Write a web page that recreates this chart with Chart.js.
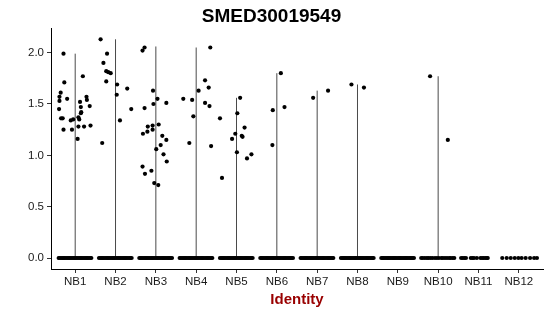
<!DOCTYPE html>
<html>
<head>
<meta charset="utf-8">
<script src="https://cdn.jsdelivr.net/npm/chart.js@4"></script>
<style>
  html, body { margin: 0; padding: 0; background: #fff; }
  #wrap { width: 550px; height: 316px; }
</style>
</head>
<body>
<div id="wrap"><canvas id="c" width="550" height="316"></canvas></div>
<script>
// ---- data ----
const title = 'SMED30019549';
const xTitle = 'Identity';
const categories = ['NB1','NB2','NB3','NB4','NB5','NB6','NB7','NB8','NB9','NB10','NB11','NB12'];
const yTicks = [0, 0.5, 1.0, 1.5, 2.0];
// top of each (very thin) violin; null = no visible violin
const violinMax = [1.99, 2.13, 2.06, 2.05, 1.56, 1.80, 1.63, 1.69, null, 1.77, null, null];

// non-zero expression values per group and their horizontal jitter
const exprNB1 = [1.99,1.71,1.61,1.57,1.53,1.55,1.45,1.36,1.36,1.25,1.34,1.35,1.25,1.16,1.28,1.35,1.37,1.52,1.47,1.42,1.41,1.77,1.28,1.57,1.54,1.48,1.29];
const jitNB1  = [-0.29,-0.27,-0.36,-0.39,-0.39,-0.20,-0.40,-0.35,-0.31,-0.29,-0.11,-0.05,-0.08,0.06,0.08,0.10,0.08,0.12,0.14,0.15,0.14,0.19,0.22,0.28,0.29,0.36,0.38];
const exprNB2 = [2.13,1.90,1.99,1.82,1.81,1.80,1.72,1.12,1.69,1.59,1.34,1.65,1.45];
const jitNB2  = [-0.37,-0.30,-0.21,-0.23,-0.18,-0.12,-0.23,-0.33,0.04,0.03,0.11,0.29,0.39];
const exprNB3 = [2.02,2.05,1.46,1.21,1.23,1.28,1.29,1.25,1.63,1.50,1.55,1.30,1.06,1.10,1.19,1.15,1.51,1.01,0.89,0.82,0.85,0.73,0.71,0.94];
const jitNB3  = [-0.33,-0.28,-0.28,-0.32,-0.21,-0.20,-0.08,-0.08,-0.07,-0.06,0.04,0.07,0.01,0.12,0.16,0.26,0.26,0.19,-0.33,-0.27,-0.11,-0.04,0.06,0.27];
const exprNB4 = [1.55,1.54,1.38,1.12,1.63,2.05,1.73,1.66,1.51,1.48,1.09];
const jitNB4  = [-0.32,-0.10,-0.07,-0.17,0.06,0.35,0.22,0.31,0.22,0.33,0.37];
const exprNB5 = [1.36,0.78,1.16,1.21,1.41,1.56,1.19,1.18,1.27,1.03,0.97,1.01];
const jitNB5  = [-0.41,-0.36,-0.11,-0.03,0.02,0.09,0.13,0.15,0.20,0.01,0.26,0.37];
const exprNB6 = [1.80,1.44,1.47,1.10];
const jitNB6  = [0.10,-0.10,0.19,-0.11];
const exprNB7 = [1.56,1.63];
const jitNB7  = [-0.10,0.27];
const exprNB8 = [1.69,1.66];
const jitNB8  = [-0.15,0.16];
const exprNB10 = [1.77,1.15];
const jitNB10  = [-0.20,0.24];

// horizontal jitter of the many zero-valued cells in each group
const zeroJitDense = [-0.41,-0.38,-0.35,-0.32,-0.29,-0.26,-0.23,-0.20,-0.17,-0.14,-0.11,-0.08,-0.05,-0.02,0.01,0.04,0.07,0.10,0.13,0.16,0.19,0.22,0.25,0.28,0.31,0.34,0.37,0.40];
const zeroJitNB10 = [-0.42,-0.38,-0.33,-0.28,-0.24,-0.19,-0.14,-0.08,-0.03,0.02,0.08,0.12,0.17,0.22,0.27,0.31,0.36,0.40];
const zeroJitNB11 = [-0.43,-0.39,-0.35,-0.31,-0.19,-0.15,-0.11,-0.04,0.05,0.09,0.13,0.17,0.21,0.23];
const zeroJitNB12 = [-0.41,-0.30,-0.20,-0.10,-0.01,0.07,0.17,0.28,0.38,0.45];

// ---- build library datasets ----
const nonZero = [
  [exprNB1, jitNB1],[exprNB2, jitNB2],[exprNB3, jitNB3],[exprNB4, jitNB4],[exprNB5, jitNB5],
  [exprNB6, jitNB6],[exprNB7, jitNB7],[exprNB8, jitNB8],[[],[]],[exprNB10, jitNB10],[[],[]],[[],[]]
];
const zeroJit = [zeroJitDense,zeroJitDense,zeroJitDense,zeroJitDense,zeroJitDense,zeroJitDense,
                 zeroJitDense,zeroJitDense,zeroJitDense,zeroJitNB10,zeroJitNB11,zeroJitNB12];

const pointData = [];
categories.forEach((c, i) => {
  const pos = i + 1;
  zeroJit[i].forEach(j => pointData.push({x: pos + j, y: 0}));
  const [vals, jits] = nonZero[i];
  vals.forEach((v, k) => pointData.push({x: pos + jits[k], y: v}));
});

const violinData = [];
violinMax.forEach((m, i) => {
  if (m === null) return;
  violinData.push({x: i + 1, y: 0});
  violinData.push({x: i + 1, y: m});
  violinData.push({x: i + 1, y: null});
});

const FONT = "'Liberation Sans', Arial, Helvetica, sans-serif";

new Chart(document.getElementById('c'), {
  type: 'scatter',
  data: {
    datasets: [
      {
        type: 'scatter',
        data: pointData,
        backgroundColor: '#000',
        borderWidth: 0,
        pointRadius: 2.1,
        order: 1
      },
      {
        type: 'line',
        data: violinData,
        borderColor: '#4a4a4a',
        borderWidth: 1,
        pointRadius: 0,
        spanGaps: false,
        fill: false,
        order: 2
      }
    ]
  },
  options: {
    responsive: false,
    animation: false,
    devicePixelRatio: 1,
    layout: { padding: { left: 0, right: 7, top: 0, bottom: 0 } },
    plugins: {
      legend: { display: false },
      tooltip: { enabled: false },
      title: {
        display: true,
        text: title,
        color: '#000',
        font: { family: FONT, size: 19, weight: 'bold' },
        padding: { top: 5, bottom: 0.2 }
      }
    },
    scales: {
      x: {
        type: 'linear',
        min: 0.4,
        max: 12.6,
        afterBuildTicks: s => { s.ticks = categories.map((c, i) => ({ value: i + 1 })); },
        afterFit: s => { s.height = 47; },
        ticks: {
          callback: (v) => categories[Math.round(v) - 1],
          color: '#1a1a1a',
          font: { family: FONT, size: 11.5 },
          padding: 2,
          maxRotation: 0,
          autoSkip: false
        },
        grid: { drawOnChartArea: false, drawTicks: true, tickLength: 4, color: '#333', lineWidth: 1 },
        border: { display: true, color: '#000', width: 1 },
        title: {
          display: true,
          text: xTitle,
          color: '#990000',
          font: { family: FONT, size: 15, weight: 'bold' },
          padding: { top: 0, bottom: 7 }
        }
      },
      y: {
        type: 'linear',
        min: -0.107,
        max: 2.24,
        afterBuildTicks: s => { s.ticks = yTicks.map(v => ({ value: v })); },
        afterFit: s => { s.width = 51; },
        ticks: {
          callback: v => Number(v).toFixed(1),
          color: '#1a1a1a',
          font: { family: FONT, size: 11.5 },
          padding: 3
        },
        grid: { drawOnChartArea: false, drawTicks: true, tickLength: 4, color: '#333', lineWidth: 1 },
        border: { display: true, color: '#000', width: 1 }
      }
    }
  }
});
</script>
</body>
</html>
